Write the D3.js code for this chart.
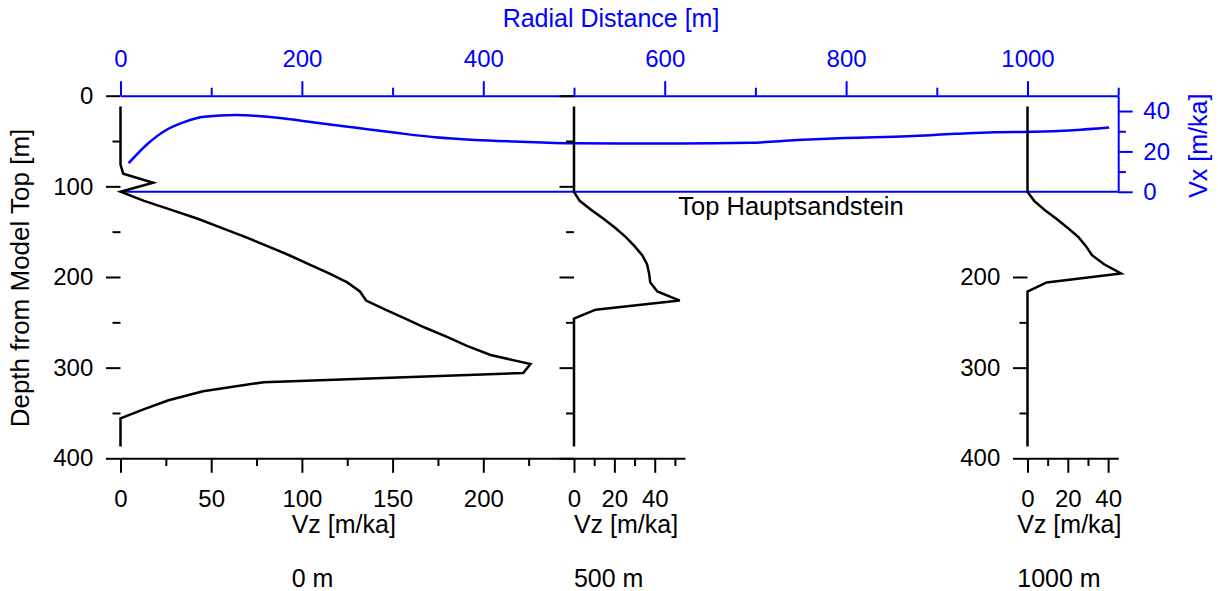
<!DOCTYPE html>
<html>
<head>
<meta charset="utf-8">
<script src="https://cdn.jsdelivr.net/npm/d3@7"></script>
<style>
  body { margin: 0; background: #fff; }
  svg { display: block; }
  text { font-family: "Liberation Sans", Arial, sans-serif; }
</style>
</head>
<body>
<div id="chart"></div>
<script>
// Vx along the top of the Hauptsandstein
const radial = [9, 30, 50, 70, 92, 127, 173, 216, 260, 304, 347, 391, 435, 500, 551, 616, 694, 746, 799, 868, 920, 964, 1007, 1051, 1090]
const vx = [14.2, 23.8, 30.5, 34.5, 37.2, 38, 36.7, 34.2, 31.7, 29.2, 27, 25.7, 24.9, 24, 23.9, 23.9, 24.3, 25.6, 26.7, 27.5, 28.7, 29.5, 29.7, 30.5, 31.8]

// Vz profiles at 0 m, 500 m, 1000 m
const depth0 = [12, 76, 86, 96, 106, 116, 126, 136, 146, 156, 166, 176, 186, 196, 206, 216, 226, 236, 246, 256, 266, 276, 286, 296, 306, 316, 326, 336, 346, 356, 387]
const vz0 = [0, 0, 1.5, 18, 0, 13, 28, 43, 56, 69, 81, 93, 104, 115, 125, 132, 135.4, 146, 157, 168, 180, 191, 204, 226, 222, 79, 45.5, 26.5, 12.7, 0, 0]
const depth500 = [12, 106, 116, 126, 136, 146, 156, 166, 176, 186, 196, 206, 216, 226, 236, 246, 387]
const vz500 = [0, 0, 2.8, 8.6, 14.8, 20.5, 25.7, 30, 33.8, 36.2, 37.2, 37.8, 41.3, 52.4, 10.7, 0, 0]
const depth1000 = [12, 106, 116, 126, 136, 146, 156, 166, 176, 186, 196, 206, 216, 387]
const vz1000 = [0, 0, 3.3, 8.5, 14.5, 20, 25.3, 29, 32, 38, 46.4, 9.5, 0, 0]

const topHauptsandstein = 106
const panelNames = ['0 m', '500 m', '1000 m']

const radialMajor = [0, 200, 400, 600, 800, 1000]
const radialMinor = [100, 300, 500, 700, 900, 1100]
const depthMajor = [0, 100, 200, 300, 400]
const depthMinor = [50, 150, 250, 350]
const vxMajor = [0, 20, 40]
const vxMinor = [10, 30]

const width = 1218, height = 591
const blue = '#0000ff'
const fmt = d3.format('d')

const svg = d3.select('#chart').append('svg')
    .attr('width', width)
    .attr('height', height)

// scales (pixel ranges fitted to the figure)
const x = d3.scaleLinear().domain([0, 1100]).range([120.5, 1118.2])
const y = d3.scaleLinear().domain([0, 400]).range([95.7, 458.3])
const yVx = d3.scaleLinear().domain([0, 47.6]).range([y(topHauptsandstein), y(0)])

const panels = [
    {depth: depth0, vz: vz0, scale: d3.scaleLinear().domain([0, 250]).range([x(0), x(500)]),
     major: [0, 50, 100, 150, 200], minor: [25, 75, 125, 175, 225],
     yMajor: depthMajor, yMinor: depthMinor, yLabels: true},
    {depth: depth500, vz: vz500, scale: d3.scaleLinear().domain([0, 55]).range([x(500), x(500) + 111]),
     major: [0, 20, 40], minor: [10, 30, 50],
     yMajor: depthMajor, yMinor: depthMinor, yLabels: false},
    {depth: depth1000, vz: vz1000, scale: d3.scaleLinear().domain([0, 45]).range([x(1000), x(1100)]),
     major: [0, 20, 40], minor: [10, 30],
     yMajor: [200, 300, 400], yMinor: [250, 350], yLabels: true}
]

function styleAxis(g, colour, size) {
    g.selectAll('path').attr('stroke', colour).attr('stroke-width', 2)
    g.selectAll('line').attr('stroke', colour).attr('stroke-width', 2)
    g.selectAll('text').attr('fill', colour).style('font-size', size + 'px')
}

// Top axis: radial distance
svg.append('g')
    .attr('transform', `translate(0,${y(0)})`)
    .call(d3.axisTop(x).tickValues(radialMinor).tickSize(8).tickSizeOuter(0).tickFormat(''))
    .call(g => styleAxis(g, blue, 24))
svg.append('g')
    .attr('transform', `translate(0,${y(0)})`)
    .call(d3.axisTop(x).tickValues(radialMajor).tickSize(14.5).tickPadding(14.5).tickSizeOuter(0).tickFormat(fmt))
    .call(g => styleAxis(g, blue, 24))
    .call(g => g.select('.domain').remove())

svg.append('text')
    .attr('x', 611).attr('y', 27.3)
    .attr('text-anchor', 'middle')
    .attr('fill', blue)
    .style('font-size', '25px')
    .text('Radial Distance [m]')

// Right axis: Vx
svg.append('g')
    .attr('transform', `translate(${x(1100)},0)`)
    .call(d3.axisRight(yVx).tickValues(vxMinor).tickSize(7.7).tickSizeOuter(0).tickFormat(''))
    .call(g => styleAxis(g, blue, 24))
svg.append('g')
    .attr('transform', `translate(${x(1100)},0)`)
    .call(d3.axisRight(yVx).tickValues(vxMajor).tickSize(14.5).tickPadding(10.6).tickSizeOuter(0))
    .call(g => styleAxis(g, blue, 24))
    .call(g => g.select('.domain').remove())

svg.append('text')
    .attr('transform', `translate(1206.7,${(y(0) + y(topHauptsandstein)) / 2 + 2})rotate(-90)`)
    .attr('text-anchor', 'middle')
    .attr('fill', blue)
    .style('font-size', '25px')
    .text('Vx [m/ka]')

// Top Hauptsandstein line
svg.append('line')
    .attr('x1', x(0)).attr('x2', x(1100))
    .attr('y1', y(topHauptsandstein)).attr('y2', y(topHauptsandstein))
    .attr('stroke', blue).attr('stroke-width', 2)

svg.append('text')
    .attr('x', 678.3).attr('y', 215)
    .style('font-size', '25.5px')
    .attr('fill', '#000')
    .text('Top Hauptsandstein')

// Vx curve
const vxLine = d3.line()
    .x((d, i) => x(radial[i]))
    .y(d => yVx(d))
    .curve(d3.curveMonotoneX)
svg.append('path')
    .datum(vx)
    .attr('d', vxLine)
    .attr('fill', 'none')
    .attr('stroke', blue)
    .attr('stroke-width', 2.5)

// Vz panels
panels.forEach((p, k) => {
    // depth ticks
    svg.append('g')
        .attr('transform', `translate(${p.scale(0)},0)`)
        .call(d3.axisLeft(y).tickValues(p.yMinor).tickSize(8).tickFormat(''))
        .call(g => styleAxis(g, '#000', 24))
        .call(g => g.select('.domain').remove())
    svg.append('g')
        .attr('transform', `translate(${p.scale(0)},0)`)
        .call(d3.axisLeft(y).tickValues(p.yMajor).tickSize(14.5).tickPadding(12.7)
            .tickFormat(p.yLabels ? fmt : ''))
        .call(g => styleAxis(g, '#000', 24))
        .call(g => g.select('.domain').remove())

    // Vz axis
    svg.append('g')
        .attr('transform', `translate(0,${y(400)})`)
        .call(d3.axisBottom(p.scale).tickValues(p.minor).tickSize(7.7).tickSizeOuter(0).tickFormat(''))
        .call(g => styleAxis(g, '#000', 24))
    svg.append('g')
        .attr('transform', `translate(0,${y(400)})`)
        .call(d3.axisBottom(p.scale).tickValues(p.major).tickSize(14.5).tickPadding(16.9).tickSizeOuter(0).tickFormat(fmt))
        .call(g => styleAxis(g, '#000', 24))
        .call(g => g.select('.domain').remove())

    const r = p.scale.range()
    const lbl = svg.append('text')
        .attr('x', (r[0] + r[1]) / 2 - 3.5).attr('y', 533)
        .attr('text-anchor', 'middle')
        .style('font-size', '25px')
        .text('Vz [m/ka]')
    const left = lbl.node().getBBox().x
    svg.append('text')
        .attr('x', left).attr('y', 586.7)
        .style('font-size', '25px')
        .text(panelNames[k])

    // profile
    const line = d3.line()
        .x((d, i) => p.scale(d))
        .y((d, i) => y(p.depth[i]))
    svg.append('path')
        .datum(p.vz)
        .attr('d', line)
        .attr('fill', 'none')
        .attr('stroke', '#000')
        .attr('stroke-width', 2.5)
        .attr('stroke-linejoin', 'miter')
})

svg.append('text')
    .attr('transform', `translate(29,278)rotate(-90)`)
    .attr('text-anchor', 'middle')
    .style('font-size', '26px')
    .text('Depth from Model Top [m]')
</script>
</body>
</html>
